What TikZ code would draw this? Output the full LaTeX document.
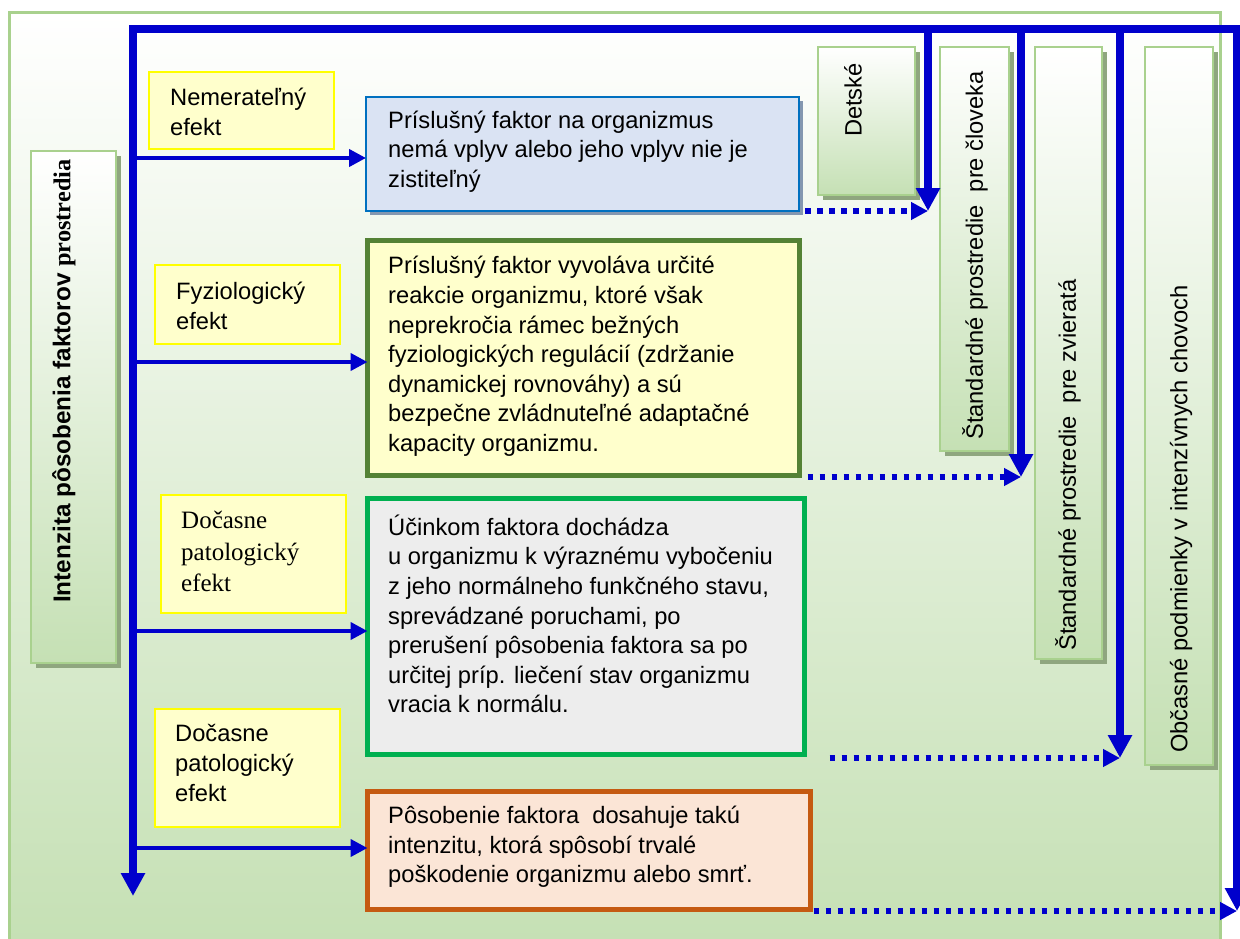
\documentclass[tikz,border=0pt]{standalone}
\usepackage{fontspec}
\setmainfont{Liberation Sans}
\newfontfamily\tnr{Liberation Serif}
\usetikzlibrary{arrows.meta,calc,shadows}
\definecolor{lblue}{HTML}{0000CC}
\definecolor{frameG}{HTML}{A9D18E}
\definecolor{bgG}{HTML}{C5E0B4}
\definecolor{shadowG}{HTML}{8FA67F}
\definecolor{yfill}{HTML}{FFFFCC}
\definecolor{yline}{HTML}{FFFF00}
\definecolor{bAfill}{HTML}{DAE3F3}
\definecolor{bAline}{HTML}{0070C0}
\definecolor{bAshadow}{HTML}{8497B0}
\definecolor{bBline}{HTML}{548235}
\definecolor{bCfill}{HTML}{EDEDED}
\definecolor{bCline}{HTML}{00B050}
\definecolor{bDfill}{HTML}{FBE5D6}
\definecolor{bDline}{HTML}{C55A11}
\newcommand\szsans{\fontsize{23.7}{29.6}\selectfont}
\newcommand\szbold{\fontsize{24.3}{29.6}\selectfont\bfseries}
\newcommand\szlbl{\fontsize{23.7}{30}\selectfont}
\newcommand\szser{\fontsize{25}{31.5}\selectfont\tnr}
\begin{document}
\begin{tikzpicture}[x=1pt,y=-1pt,
  bigbox/.style={rectangle, inner sep=0pt, outer sep=0pt, line width=5pt, anchor=north west},
  lbl/.style={rectangle, draw=yline, fill=yfill, line width=2pt, inner sep=0pt, outer sep=0pt, anchor=north west},
  txt/.style={anchor=west, align=left, inner sep=0pt, font=\szsans},
  ltxt/.style={anchor=west, align=left, inner sep=0pt, font=\szlbl},
  vbox/.style={rectangle, draw=frameG, line width=2pt, top color=white, bottom color=bgG, inner sep=0pt, outer sep=0pt,
    drop shadow={shadow xshift=5pt, shadow yshift=-5pt, fill=shadowG, opacity=1}},
  vtxt/.style={rotate=90, inner sep=0pt, font=\szsans},
  mainline/.style={draw=lblue, line width=7.5pt, line join=miter},
  bigtip/.style={-{Triangle[length=23pt,width=23pt]}},
  harrow/.style={draw=lblue, line width=4pt, -{Triangle[length=17pt,width=17pt]}},
  darrow/.style={draw=lblue, line width=5.5pt, dash pattern=on 5.5pt off 6.5pt, -{Triangle[length=17pt,width=17pt]}},
]
\useasboundingbox (0,0) rectangle (1240,939);
% background frame
\shadedraw[top color=white, bottom color=bgG, draw=frameG, line width=3pt] (9,13) rectangle (1220,948);

% left vertical box
\node[vbox, minimum width=85pt, minimum height=512pt] (v0) at (73.5,407) {};
\node[vtxt, anchor=west, font=\szbold] (v0t) at (64,603) {Intenzita pôsobenia faktorov {\tnr prostredia}};

% right vertical boxes
\node[vbox, minimum width=97pt, minimum height=148pt] (v1) at (866.5,121) {};
\node[vbox, minimum width=69pt, minimum height=404pt] (v2) at (974.5,249) {};
\node[vbox, minimum width=67pt, minimum height=612pt] (v3) at (1068.5,353) {};
\node[vbox, minimum width=68pt, minimum height=718pt] (v4) at (1179,406) {};
\node[vtxt, anchor=east] (v1t) at (853,63) {Detské};
\node[vtxt, anchor=west] (v2t) at (975,440) {Štandardné prostredie~ pre človeka};
\node[vtxt, anchor=west] (v3t) at (1068,651) {Štandardné prostredie~ pre zvieratá};
\node[vtxt, anchor=west] (v4t) at (1181,753) {Občasné podmienky v intenzívnych chovoch};

% yellow labels
\node[lbl, minimum width=185pt, minimum height=77pt] (y1) at (149,72) {};
\node[lbl, minimum width=185pt, minimum height=79pt] (y2) at (155,265) {};
\node[lbl, minimum width=185pt, minimum height=118pt] (y3) at (161,495) {};
\node[lbl, minimum width=185pt, minimum height=118pt] (y4) at (155,709) {};
\node[ltxt] (y1t) at (170,112) {Nemerateľný\\efekt};
\node[ltxt] (y2t) at (176,305.5) {Fyziologický\\efekt};
\node[ltxt, font=\szser] (y3t) at (181,551.5) {Dočasne\\patologický\\efekt};
\node[ltxt] (y4t) at (175,763) {Dočasne\\patologický\\efekt};

% big boxes
\node[bigbox, draw=bAline, fill=bAfill, line width=2.5pt, minimum width=433pt, minimum height=114pt,
  drop shadow={shadow xshift=4pt, shadow yshift=-4pt, fill=bAshadow, opacity=1}] (b1) at (366,97) {};
\node[bigbox, draw=bBline, fill=yfill, minimum width=432pt, minimum height=235pt] (b2) at (367.5,240.5) {};
\node[bigbox, draw=bCline, fill=bCfill, minimum width=437pt, minimum height=256pt] (b3) at (367.5,498.5) {};
\node[bigbox, draw=bDline, fill=bDfill, minimum width=443pt, minimum height=118pt] (b4) at (367.5,791.5) {};
\node[txt] (b1t) at (388,151.5) {Príslušný faktor na organizmus\\nemá vplyv alebo jeho vplyv nie je\\zistiteľný};
\node[txt] (b2t) at (388,356.5) {Príslušný faktor vyvoláva určité\\reakcie organizmu, ktoré však\\neprekročia rámec bežných\\fyziologických regulácií (zdržanie\\dynamickej rovnováhy) a sú\\bezpečne zvládnuteľné adaptačné\\kapacity organizmu.};
\node[txt] (b3t) at (388,614) {Účinkom faktora dochádza\\u organizmu k výraznému vybočeniu\\z jeho normálneho funkčného stavu,\\sprevádzané poruchami, po\\prerušení pôsobenia faktora sa po\\určitej príp. liečení stav organizmu\\vracia k normálu.};
\node[txt] (b4t) at (388,847) {Pôsobenie faktora~ dosahuje takú\\intenzitu, ktorá spôsobí trvalé\\poškodenie organizmu alebo smrť.};

% coordinates
\coordinate (tl) at (133,29);
\coordinate (bl) at (133,896);
\coordinate (tr) at (1237,29);
\coordinate (p1) at (928,211);
\coordinate (p2) at (1021,477);
\coordinate (p3) at (1120,758);
\coordinate (p4) at (1237,911);
\coordinate (a1) at (133,158);
\coordinate (a2) at (133,362);
\coordinate (a3) at (133,631);
\coordinate (a4) at (133,848);

% main blue lines
\draw[mainline, {Triangle[length=23pt,width=23pt]}-{Triangle[length=23pt,width=23pt]}] (bl) -- (tl) -- (tr) -- (p4);
\draw[mainline, bigtip] (p1 |- tl) -- (p1);
\draw[mainline, bigtip] (p2 |- tl) -- (p2);
\draw[mainline, bigtip] (p3 |- tl) -- (p3);

% horizontal arrows
\draw[harrow] (a1) -- (a1 -| b1.west);
\draw[harrow] (a2) -- (a2 -| b2.west);
\draw[harrow] (a3) -- (a3 -| b3.west);
\draw[harrow] (a4) -- (a4 -| b4.west);

% dotted arrows
\draw[darrow] ($(b1.south east)+(6,0)$) -- (p1);
\draw[darrow] ($(b2.south east)+(8,1.5)$) -- (p2);
\draw[darrow] ($(b3.south east)+(25,3.5)$) -- (p3);
\draw[darrow] ($(b4.south east)+(3,1.5)$) -- (p4);
\end{tikzpicture}
\end{document}
